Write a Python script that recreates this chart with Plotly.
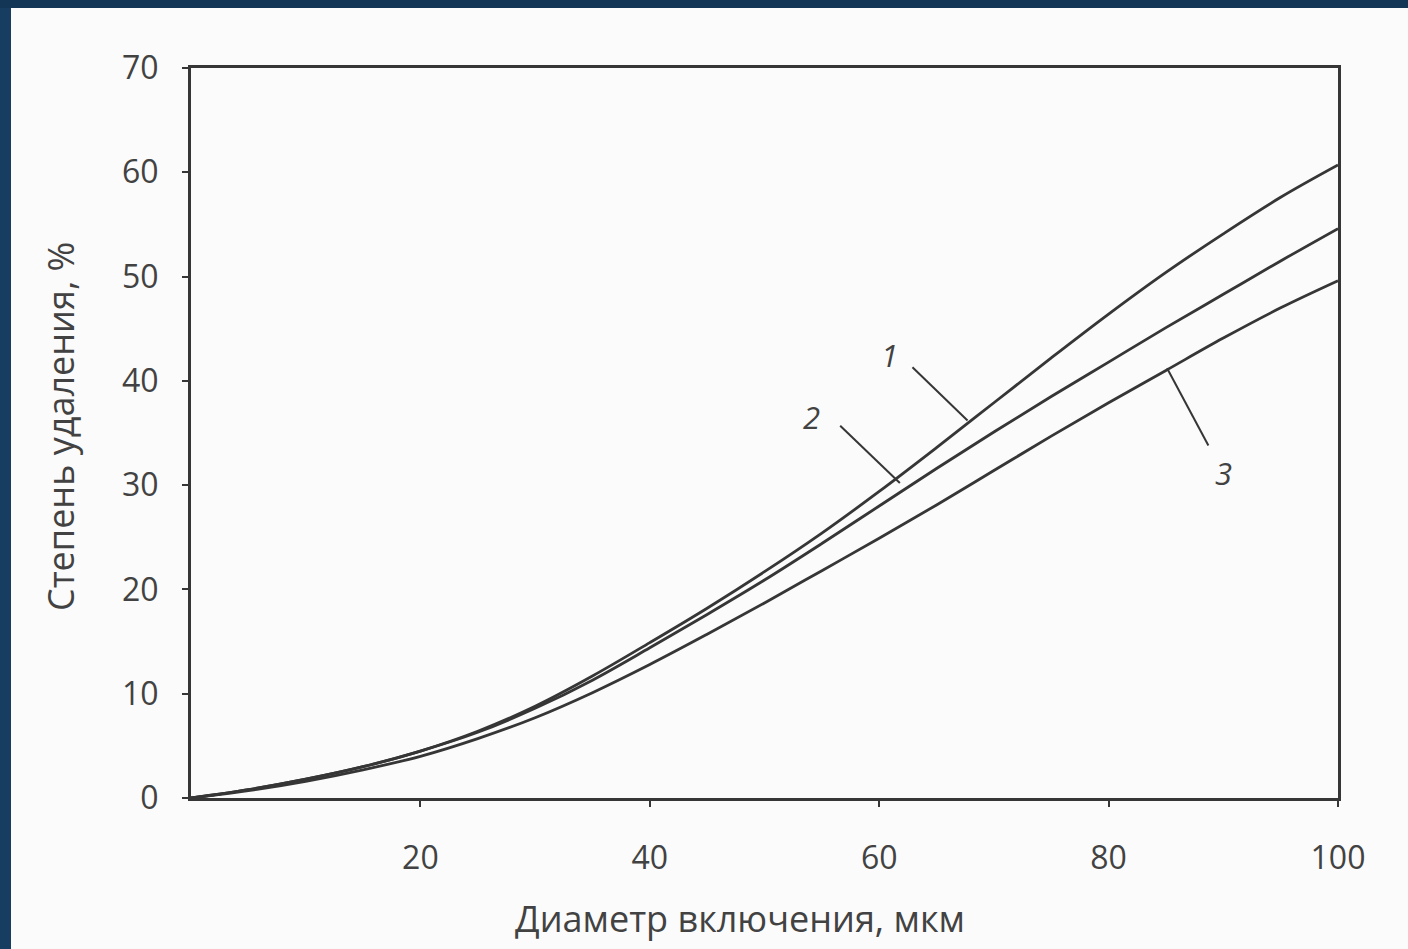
import plotly.graph_objects as go

# Data
diameter_um = [0, 5, 10, 15, 20, 25, 30, 35, 40, 45, 50, 55, 60, 65, 70, 75, 80, 85, 90, 95, 100]
removal_1 = [0, 0.8, 1.8, 3.0, 4.5, 6.4, 8.8, 11.7, 14.9, 18.2, 21.7, 25.4, 29.4, 33.6, 37.9, 42.2, 46.4, 50.4, 54.1, 57.6, 60.7]
removal_2 = [0, 0.8, 1.8, 3.0, 4.5, 6.3, 8.6, 11.3, 14.4, 17.6, 20.9, 24.4, 28.0, 31.6, 35.1, 38.5, 41.8, 45.1, 48.3, 51.5, 54.6]
removal_3 = [0, 0.7, 1.6, 2.7, 4.0, 5.7, 7.7, 10.1, 12.8, 15.7, 18.7, 21.8, 24.9, 28.1, 31.4, 34.7, 37.9, 41.0, 44.1, 47.0, 49.6]
series = [("1", removal_1), ("2", removal_2), ("3", removal_3)]

x_ticks = [20, 40, 60, 80, 100]
y_ticks = [0, 10, 20, 30, 40, 50, 60, 70]
x_title = "Диаметр включения, мкм"
y_title = "Степень удаления, %"

# curve labels: (text, label x, label y, leader start x, y, leader end x, y)
curve_labels = [
    ("1", 60.9, 42.5, 62.9, 41.3, 67.7, 36.2),
    ("2", 54.1, 36.5, 56.6, 35.7, 61.8, 30.2),
    ("3", 90.0, 31.2, 85.1, 41.2, 88.7, 33.8),
]

LINE = "#363636"
TEXT = "#424242"
FONT = "Open Sans"

fig = go.Figure()
for name, ys in series:
    fig.add_trace(go.Scatter(
        x=diameter_um, y=ys, mode="lines", name=name,
        line=dict(color=LINE, width=2.8, shape="spline", smoothing=1.0),
        showlegend=False, hoverinfo="x+y",
    ))

W, H = 1408, 949
L, R, T, B = 191, 70, 68, 151
pw, ph = W - L - R, H - T - B
def px2paper_x(px):
    return (px - L) / pw
def py2paper_y(py):
    return (H - B - py) / ph

# dark textured-blue frame at left and top of the reference
shapes = [
    dict(type="rect", xref="paper", yref="paper", x0=px2paper_x(0), x1=px2paper_x(11),
         y0=py2paper_y(H), y1=py2paper_y(0), fillcolor="#173d61", line=dict(width=0), layer="below"),
    dict(type="rect", xref="paper", yref="paper", x0=px2paper_x(0), x1=px2paper_x(W),
         y0=py2paper_y(8), y1=py2paper_y(0), fillcolor="#143656", line=dict(width=0), layer="below"),
]
annotations = []
for text, lx, ly, sx, sy, ex, ey in curve_labels:
    shapes.append(dict(type="line", xref="x", yref="y", x0=sx, y0=sy, x1=ex, y1=ey,
                       line=dict(color=LINE, width=2)))
    annotations.append(dict(x=lx, y=ly, xref="x", yref="y", text=f"<i>{text}</i>", showarrow=False,
                            font=dict(family=FONT, size=31, color=TEXT)))

annotations.append(dict(x=px2paper_x(740), y=py2paper_y(918), xref="paper", yref="paper",
                        text=x_title, showarrow=False, xanchor="center", yanchor="middle",
                        font=dict(family=FONT, size=36, color=TEXT)))
annotations.append(dict(x=px2paper_x(60), y=py2paper_y(427), xref="paper", yref="paper",
                        text=y_title, showarrow=False, textangle=-90, xanchor="center", yanchor="middle",
                        font=dict(family=FONT, size=36, color=TEXT)))

fig.update_layout(
    width=W, height=H,
    margin=dict(l=L, r=R, t=T, b=B),
    paper_bgcolor="#fbfbfb", plot_bgcolor="#fbfbfb",
    shapes=shapes, annotations=annotations,
    font=dict(family=FONT, color=TEXT, size=32),
)
fig.update_xaxes(
    range=[0, 100], tickvals=x_ticks, ticks="outside", ticklen=6, tickwidth=2, tickcolor=LINE,
    showline=True, linecolor=LINE, linewidth=3, mirror=True, showgrid=False, zeroline=False,
    tickfont=dict(family=FONT, size=32, color=TEXT), ticklabelstandoff=24,
)
fig.update_yaxes(
    range=[0, 70], tickvals=y_ticks, ticks="outside", ticklen=6, tickwidth=2, tickcolor=LINE,
    showline=True, linecolor=LINE, linewidth=3, mirror=True, showgrid=False, zeroline=False,
    tickfont=dict(family=FONT, size=32, color=TEXT), ticklabelstandoff=17,
)

fig.write_html("out.html", config={"displayModeBar": False},
               post_script="document.body.style.margin='0';")
